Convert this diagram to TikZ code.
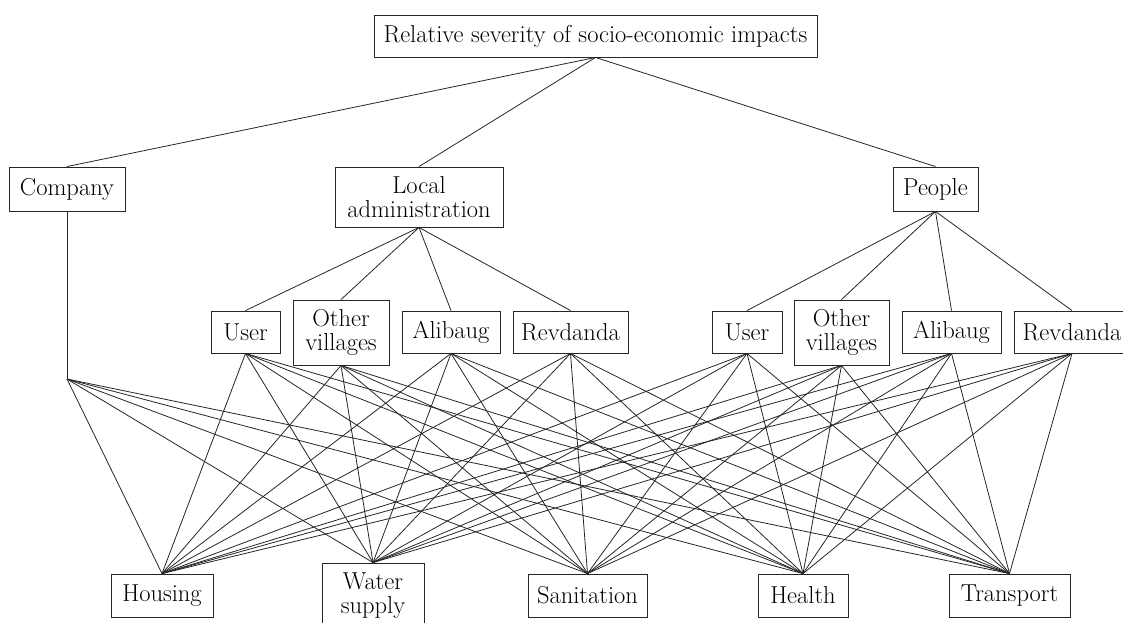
\documentclass[tikz,border=0pt]{standalone}
\begin{document}
\begin{tikzpicture}[x=1pt,y=-1pt,
  box/.style={draw=black!85, line width=0.9pt, inner sep=0pt, align=center,
              text=black, font=\fontsize{24.5}{24.5}\selectfont},
  link/.style={draw=black!85, line width=0.8pt}]
\clip (0,0) rectangle (1123,622);
% level 0
\node[box, minimum width=443pt, minimum height=42pt] (top) at (595.5,36) {Relative severity of socio-economic impacts};
% level 1
\node[box, minimum width=116pt, minimum height=44pt] (comp) at (67,189) {Company};
\node[box, minimum width=168pt, minimum height=60pt] (ladm) at (419,197) {Local\\administration};
\node[box, minimum width=85pt, minimum height=44pt] (peop) at (935.5,189) {People};
% level 2 left
\node[box, minimum width=69pt, minimum height=42pt] (lu) at (245.5,332) {User};
\node[box, minimum width=96pt, minimum height=65pt] (lo) at (341,332.5) {Other\\villages};
\node[box, minimum width=98pt, minimum height=42pt] (la) at (451,332) {Alibaug};
\node[box, minimum width=115pt, minimum height=42pt] (lr) at (570.5,332) {Revdanda};
% level 2 right
\node[box, minimum width=70pt, minimum height=42pt] (ru) at (747,332) {User};
\node[box, minimum width=95pt, minimum height=65pt] (ro) at (841.5,332.5) {Other\\villages};
\node[box, minimum width=99pt, minimum height=42pt] (ra) at (951.5,332) {Alibaug};
\node[box, minimum width=116pt, minimum height=42pt] (rr) at (1072,332) {Revdanda};
% bottom level
\node[box, minimum width=102pt, minimum height=43pt] (hou) at (162,595.5) {Housing};
\node[box, minimum width=102pt, minimum height=65pt] (wat) at (373,595.5) {Water\\supply};
\node[box, minimum width=119pt, minimum height=43pt] (san) at (587.5,595.5) {Sanitation};
\node[box, minimum width=90pt, minimum height=43pt] (hea) at (803,595.5) {Health};
\node[box, minimum width=121pt, minimum height=43pt] (tra) at (1009.5,595.5) {Transport};
\coordinate (cp) at (67,379);
% connectors
\foreach \t in {comp,ladm,peop}{\draw[link] (top.south) -- (\t.north);}
\foreach \t in {lu,lo,la,lr}{\draw[link] (ladm.south) -- (\t.north);}
\foreach \t in {ru,ro,ra,rr}{\draw[link] (peop.south) -- (\t.north);}
\draw[link] (comp.south) -- (cp);
\foreach \t in {hou,wat,san,hea,tra}{\draw[link] (cp) -- (\t.north);}
\foreach \s in {lu,lo,la,lr,ru,ro,ra,rr}{
  \foreach \t in {hou,wat,san,hea,tra}{\draw[link] (\s.south) -- (\t.north);}}
\end{tikzpicture}
\end{document}
